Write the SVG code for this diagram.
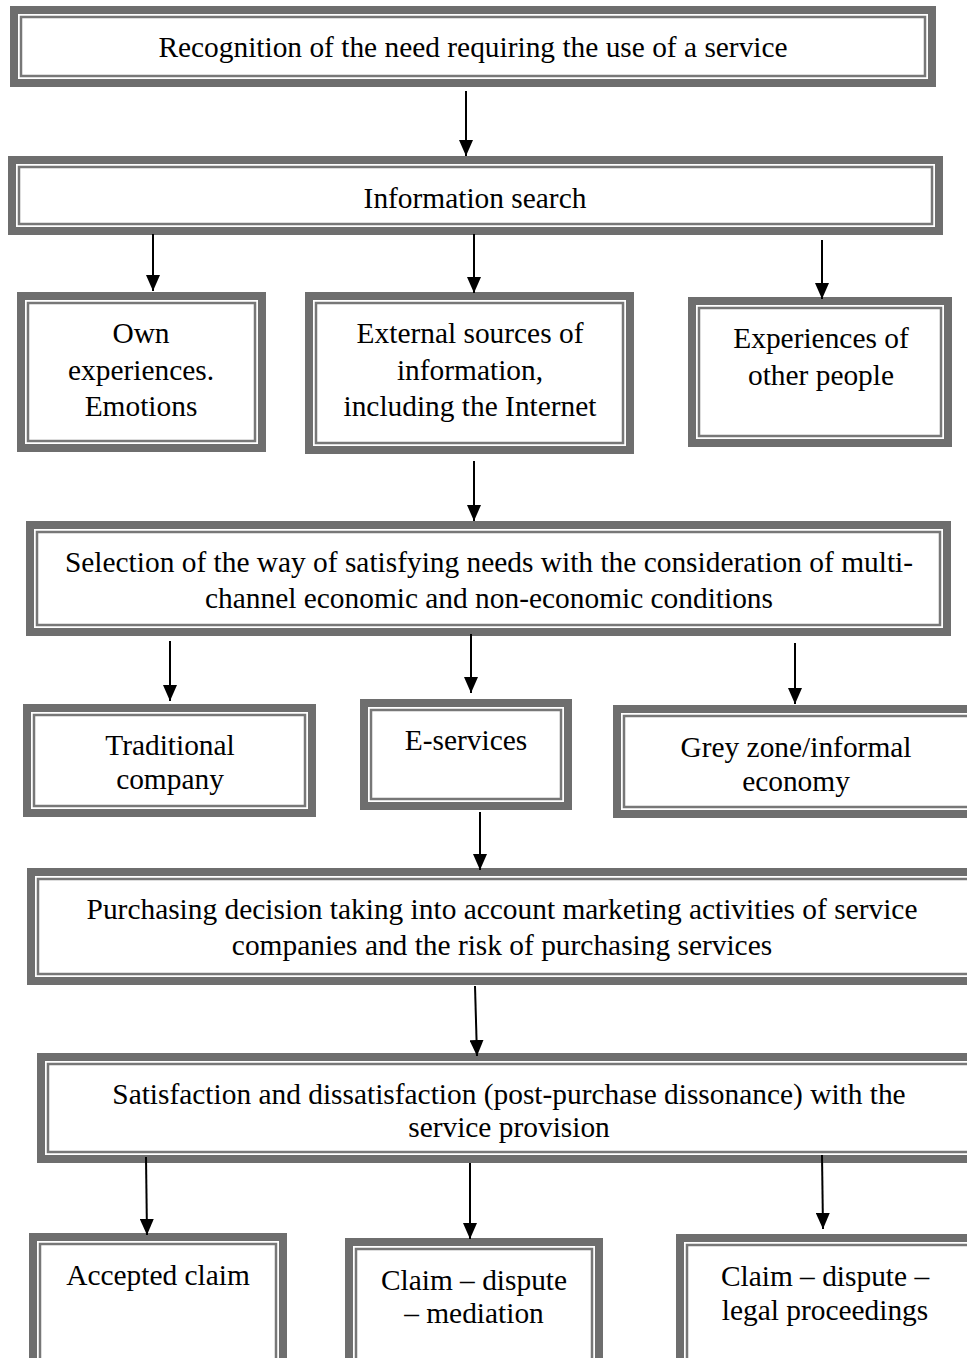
<svg xmlns="http://www.w3.org/2000/svg" width="967" height="1358" viewBox="0 0 967 1358">
<style>
.o{fill:#fff;stroke:#6e6e6e;stroke-width:8}
.i{fill:none;stroke:#777;stroke-width:2.5}
text{font-family:"Liberation Serif","Times New Roman",serif;font-size:29.4px;fill:#000;text-anchor:middle}
.c line{stroke:#000;stroke-width:2}
</style>
<defs>
<marker id="ah" markerUnits="userSpaceOnUse" markerWidth="16" markerHeight="14" refX="16" refY="7" orient="auto">
<path d="M0,0 L16,7 L0,14 z" fill="#000"/>
</marker>
</defs>
<rect width="967" height="1358" fill="#fff"/>
<g id="n1"><rect class="o" x="14" y="10" width="918" height="73"/><rect class="i" x="21" y="17" width="904" height="59"/><text x="473" y="57">Recognition of the need requiring the use of a service</text></g>
<g id="n2"><rect class="o" x="12" y="160" width="927" height="71"/><rect class="i" x="19" y="167" width="913" height="57"/><text x="475" y="208">Information search</text></g>
<g id="n3"><rect class="o" x="21" y="296" width="241" height="152"/><rect class="i" x="28" y="303" width="227" height="138"/><text x="141" y="343">Own</text><text x="141" y="380">experiences.</text><text x="141" y="416">Emotions</text></g>
<g id="n4"><rect class="o" x="309" y="296" width="321" height="154"/><rect class="i" x="316" y="303" width="307" height="140"/><text x="470" y="343">External sources of</text><text x="470" y="380">information,</text><text x="470" y="416">including the Internet</text></g>
<g id="n5"><rect class="o" x="692" y="301" width="256" height="142"/><rect class="i" x="699" y="308" width="242" height="128"/><text x="821" y="348">Experiences of</text><text x="821" y="385">other people</text></g>
<g id="n6"><rect class="o" x="30" y="525" width="917" height="107"/><rect class="i" x="37" y="532" width="903" height="93"/><text x="489" y="572">Selection of the way of satisfying needs with the consideration of multi-</text><text x="489" y="608">channel economic and non-economic conditions</text></g>
<g id="n7"><rect class="o" x="27" y="708" width="285" height="105"/><rect class="i" x="34" y="715" width="271" height="91"/><text x="170" y="755">Traditional</text><text x="170" y="789">company</text></g>
<g id="n8"><rect class="o" x="364" y="703" width="204" height="103"/><rect class="i" x="371" y="710" width="190" height="89"/><text x="466" y="750">E-services</text></g>
<g id="n9"><rect class="o" x="617" y="709" width="360" height="105"/><rect class="i" x="624" y="716" width="346" height="91"/><text x="796" y="757">Grey zone/informal</text><text x="796" y="791">economy</text></g>
<g id="n10"><rect class="o" x="31" y="872" width="946" height="109"/><rect class="i" x="38" y="879" width="932" height="95"/><text x="502" y="919">Purchasing decision taking into account marketing activities of service</text><text x="502" y="955">companies and the risk of purchasing services</text></g>
<g id="n11"><rect class="o" x="41" y="1057" width="936" height="102"/><rect class="i" x="48" y="1064" width="922" height="88"/><text x="509" y="1104">Satisfaction and dissatisfaction (post-purchase dissonance) with the</text><text x="509" y="1137">service provision</text></g>
<g id="n12"><rect class="o" x="33" y="1237" width="250" height="140"/><rect class="i" x="40" y="1244" width="236" height="126"/><text x="158" y="1285">Accepted claim</text></g>
<g id="n13"><rect class="o" x="349" y="1242" width="250" height="140"/><rect class="i" x="356" y="1249" width="236" height="126"/><text x="474" y="1290">Claim – dispute</text><text x="474" y="1323">– mediation</text></g>
<g id="n14"><rect class="o" x="680" y="1238" width="297" height="140"/><rect class="i" x="687" y="1245" width="283" height="126"/><text x="825" y="1286">Claim – dispute –</text><text x="825" y="1320">legal proceedings</text></g>
<g id="connectors" class="c">
<line x1="466" y1="91" x2="466" y2="156" marker-end="url(#ah)"/>
<line x1="153" y1="234" x2="153" y2="291" marker-end="url(#ah)"/>
<line x1="474" y1="234" x2="474" y2="293" marker-end="url(#ah)"/>
<line x1="822" y1="240" x2="822" y2="299" marker-end="url(#ah)"/>
<line x1="474" y1="461" x2="474" y2="521" marker-end="url(#ah)"/>
<line x1="170" y1="641" x2="170" y2="701" marker-end="url(#ah)"/>
<line x1="471" y1="634" x2="471" y2="693" marker-end="url(#ah)"/>
<line x1="795" y1="643" x2="795" y2="704" marker-end="url(#ah)"/>
<line x1="480" y1="812" x2="480" y2="870" marker-end="url(#ah)"/>
<line x1="475" y1="986" x2="477" y2="1056" marker-end="url(#ah)"/>
<line x1="146" y1="1157" x2="147" y2="1235" marker-end="url(#ah)"/>
<line x1="470" y1="1163" x2="470" y2="1239" marker-end="url(#ah)"/>
<line x1="822" y1="1155" x2="823" y2="1229" marker-end="url(#ah)"/>
</g>
</svg>
